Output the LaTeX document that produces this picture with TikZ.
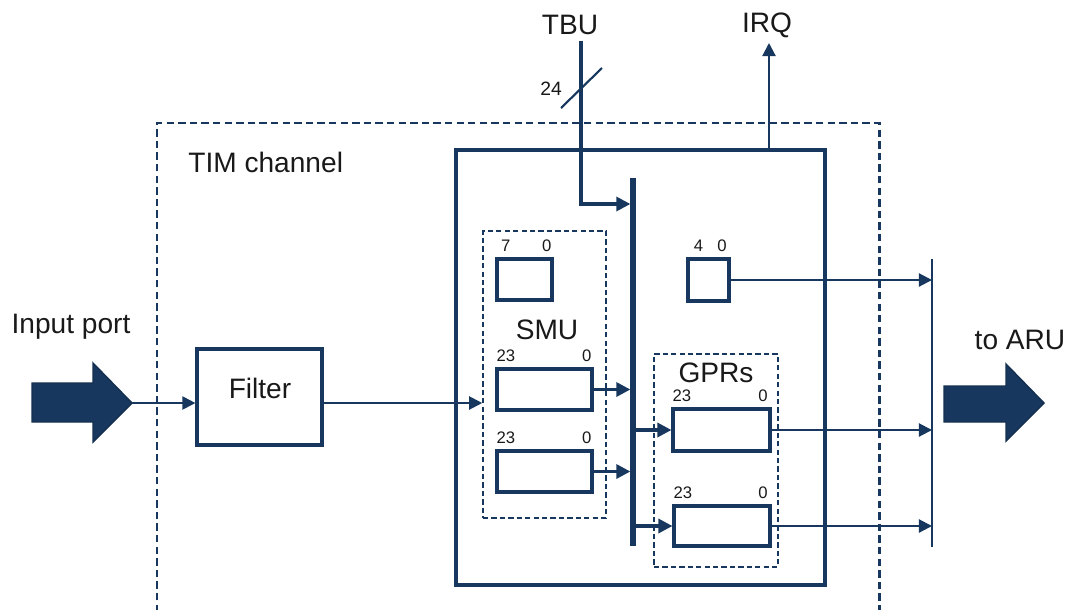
\documentclass[tikz,border=0pt]{standalone}
\usepackage{fontspec}
\setmainfont{Liberation Sans}
\usetikzlibrary{arrows.meta}
\definecolor{navy}{RGB}{23,55,94}
\begin{document}
\begin{tikzpicture}[x=0.02cm,y=-0.02cm,
  reg/.style={draw=navy,line width=1.8pt,fill=white,inner sep=0pt},
  grp/.style={draw=navy,line width=0.9pt,dash pattern=on 3pt off 1.8pt,inner sep=0pt},
  conn/.style={draw=navy,line width=1.2pt,-{Triangle[length=7.5pt,width=7.5pt]}},
  busconn/.style={draw=navy,line width=1.8pt,-{Triangle[length=8pt,width=8pt]}},
  plain/.style={draw=navy,line width=1.2pt},
  big/.style={font=\fontsize{16}{18}\selectfont,inner sep=0pt,text=black!90},
  bits/.style={font=\fontsize{9.5}{11}\selectfont,inner sep=0pt,text=black!90},
  fatarrow/.style={fill=navy,draw=navy!85!black,line width=0.8pt}
]
\useasboundingbox (0,0) rectangle (1069,609);

% outer dashed TIM channel frame
\draw[draw=navy,line width=1.7pt,dash pattern=on 4.2pt off 2.4pt]
  (157,612) -- (157,123) -- (879,123) -- (879,612);
\node[big,anchor=west] (tim) at (188,162) {TIM channel};

% inner solid block
\node[reg,fill=none,minimum width=7.38cm,minimum height=8.7cm] (inner) at (640.5,367.5) {};

% input
\node[big] (inlbl) at (71,327) {Input port};
\draw[fatarrow] (32,383) -- (93,383) -- (93,363) -- (132,403) -- (93,442) -- (93,422) -- (32,422) -- cycle;
\coordinate (inTip) at (132,403);
\node[reg,minimum width=2.5cm,minimum height=1.92cm] (filter) at (259.5,397) {};
\node[big] (filtertxt) at (260,388) {Filter};
\draw[conn] (inTip) -- (inTip -| filter.west);

% SMU group
\node[grp,minimum width=2.46cm,minimum height=5.74cm] (smu) at (544.5,374.5) {};
\node[big] (smutxt) at (547,330) {SMU};
\draw[conn] (filter.east |- inTip) -- (inTip -| smu.west);
\node[reg,minimum width=1.1cm,minimum height=0.82cm] (r7) at (524.5,279.5) {};
\node[reg,minimum width=1.9cm,minimum height=0.82cm] (s1) at (544.5,389.5) {};
\node[reg,minimum width=1.9cm,minimum height=0.82cm] (s2) at (544.5,471.5) {};
\node[bits,anchor=south west] (r7l) at ([xshift=3pt,yshift=3pt]r7.north west) {7};
\node[bits,anchor=south east] (r7r) at ([xshift=-1pt,yshift=3pt]r7.north east) {0};
\node[bits,anchor=south west] (s1l) at ([xshift=0.5pt,yshift=3pt]s1.north west) {23};
\node[bits,anchor=south east] (s1r) at ([xshift=-1pt,yshift=3pt]s1.north east) {0};
\node[bits,anchor=south west] (s2l) at ([xshift=0.5pt,yshift=3pt]s2.north west) {23};
\node[bits,anchor=south east] (s2r) at ([xshift=-1pt,yshift=3pt]s2.north east) {0};

% bus
\coordinate (busTop) at (633,178);
\coordinate (busBot) at (633,546);
\draw[draw=navy,line width=3pt] (busTop) -- (busBot);
\draw[busconn] (s1.east) -- ([xshift=-1.5pt]s1.east -| busTop);
\draw[busconn] (s2.east) -- ([xshift=-1.5pt]s2.east -| busTop);

% TBU
\node[big] (tbu) at (570,25) {TBU};
\coordinate (tbuTop) at (581,41);
\coordinate (tbuBend) at (581,204);
\draw[busconn,line join=miter] (tbuTop) -- (tbuBend) -- ([xshift=-1.5pt]tbuBend -| busTop);
\coordinate (slashA) at (561,108);
\coordinate (slashB) at (602,68);
\draw[plain] (slashA) -- (slashB);
\node[font=\fontsize{11}{13}\selectfont,inner sep=0pt,text=black!90] (w24) at (551,89) {24};

% IRQ
\node[big] (irq) at (767,25) {IRQ};
\coordinate (irqBase) at (769,150);
\coordinate (irqTip) at (769,43);
\draw[conn] (irqBase) -- (irqTip);

% small register 4..0
\node[reg,minimum width=0.82cm,minimum height=0.84cm] (r4) at (708.5,280) {};
\node[bits,anchor=south west] (r4l) at ([xshift=4pt,yshift=3pt]r4.north west) {4};
\node[bits,anchor=south east] (r4r) at ([xshift=-2pt,yshift=3pt]r4.north east) {0};

% GPRs group
\node[grp,minimum width=2.48cm,minimum height=4.26cm] (gpr) at (716,460.5) {};
\node[big] (gprtxt) at (716,373) {GPRs};
\node[reg,minimum width=1.94cm,minimum height=0.84cm] (g1) at (721.5,430) {};
\node[reg,minimum width=1.92cm,minimum height=0.8cm] (g2) at (722,526) {};
\node[bits,anchor=south west] (g1l) at ([xshift=0.5pt,yshift=3pt]g1.north west) {23};
\node[bits,anchor=south east] (g1r) at ([xshift=-2pt,yshift=3pt]g1.north east) {0};
\node[bits,anchor=south west] (g2l) at ([xshift=0.5pt,yshift=3pt]g2.north west) {23};
\node[bits,anchor=south east] (g2r) at ([xshift=-2pt,yshift=3pt]g2.north east) {0};
\draw[busconn] (busTop |- g1.west) -- (g1.west);
\draw[busconn] (busTop |- g2.west) -- (g2.west);

% collector to ARU
\coordinate (colTop) at (932,259);
\coordinate (colBot) at (932,547);
\draw[plain] (colTop) -- (colBot);
\draw[conn] (r4.east) -- (r4.east -| colTop);
\draw[conn] (g1.east) -- (g1.east -| colTop);
\draw[conn] (g2.east) -- (g2.east -| colTop);

\draw[fatarrow] (944,386) -- (1006,386) -- (1006,364) -- (1044,403) -- (1006,441) -- (1006,422) -- (944,422) -- cycle;
\node[big] (aru) at (1020,340) {to ARU};
\end{tikzpicture}
\end{document}
